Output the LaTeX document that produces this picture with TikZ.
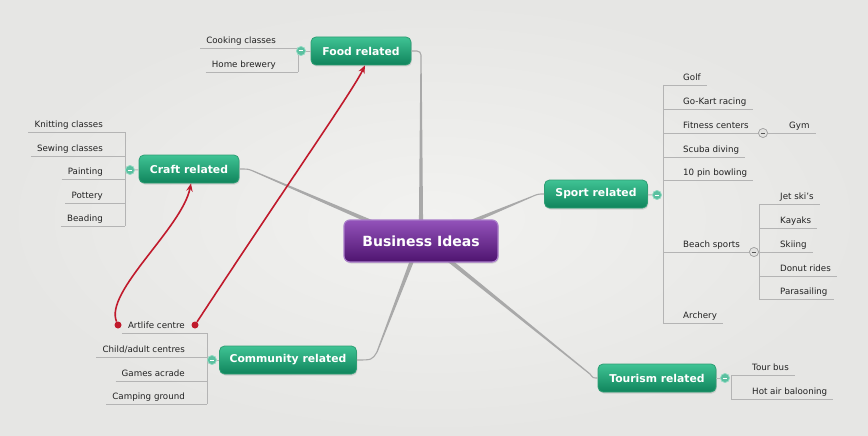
\documentclass[tikz,border=0pt]{standalone}
\usepackage{fontspec}
\setmainfont{DejaVu Sans}
\usetikzlibrary{calc,shadows,arrows.meta}
\definecolor{bgin}{HTML}{F2F2F0}
\definecolor{bgout}{HTML}{E6E6E4}
\definecolor{brgray}{HTML}{A9A9A9}
\definecolor{ulgray}{HTML}{B4B4B4}
\definecolor{leaftext}{HTML}{222222}
\definecolor{gtop}{HTML}{3FC394}
\definecolor{gbot}{HTML}{10845C}
\definecolor{gdraw}{HTML}{2E9E74}
\definecolor{ptop}{HTML}{9352BA}
\definecolor{pbot}{HTML}{4E146F}
\definecolor{pdraw}{HTML}{A97CC9}
\definecolor{rlink}{HTML}{C01A2C}
\definecolor{gcfill}{HTML}{5BC0A0}
\definecolor{gcdraw}{HTML}{9ADCC6}
\definecolor{ycfill}{HTML}{E2E2E0}
\definecolor{ycdraw}{HTML}{A0A0A0}
\definecolor{ycminus}{HTML}{555555}
\newcommand\taper[2]{%
  \fill[brgray] ($(#1)!2.1pt!90:(#2)$) -- ($(#2)!0.6pt!-90:(#1)$) -- ($(#2)!0.6pt!90:(#1)$) -- ($(#1)!2.1pt!-90:(#2)$) -- cycle;}
\begin{document}
\begin{tikzpicture}[x=1pt,y=-1pt,
  branch/.style={rounded corners=5pt, minimum width=#1, minimum height=28pt, inner sep=0pt,
    top color=gtop, bottom color=gbot, draw=gdraw, line width=0.8pt, text=white,
    font=\fontsize{10.8}{12}\selectfont\bfseries,
    drop shadow={opacity=0.25, shadow xshift=0.8pt, shadow yshift=-1.5pt}},
  central/.style={rounded corners=6pt, minimum width=154pt, minimum height=42pt, inner sep=0pt,
    top color=ptop, bottom color=pbot, draw=pdraw, line width=1.2pt, text=white,
    font=\fontsize{14}{16}\selectfont\bfseries,
    drop shadow={opacity=0.25, shadow xshift=0.8pt, shadow yshift=-1.5pt}},
  leafL/.style={anchor=south east, inner sep=0pt, text height=7pt, text depth=4pt,
    font=\fontsize{8.7}{10}\selectfont, text=leaftext,
    execute at begin node=\hspace{6pt}, execute at end node=\hspace{22pt}},
  leafR/.style={anchor=south west, inner sep=0pt, text height=7pt, text depth=4pt,
    font=\fontsize{8.7}{10}\selectfont, text=leaftext,
    execute at begin node=\hspace{#1pt}, execute at end node=\hspace{6pt}},
  leafR/.default=20,
  uline/.style={draw=ulgray, line width=0.9pt},
  thinbr/.style={draw=brgray, line width=1.1pt},
  gcirc/.style={circle, minimum size=9pt, inner sep=0pt, fill=gcfill, draw=gcdraw, line width=0.6pt,
    path picture={\draw[white, line width=1pt] ([xshift=-2.4pt]path picture bounding box.center) -- ([xshift=2.4pt]path picture bounding box.center);}},
  ycirc/.style={circle, minimum size=9pt, inner sep=0pt, fill=ycfill, draw=ycdraw, line width=0.6pt,
    path picture={\draw[ycminus, line width=0.9pt] ([xshift=-2.4pt]path picture bounding box.center) -- ([xshift=2.4pt]path picture bounding box.center);}},
  rdot/.style={circle, minimum size=7pt, inner sep=0pt, fill=rlink},
  rarrow/.style={draw=rlink, line width=1.6pt, -{Stealth[length=8pt,width=6.5pt]}}
]
\useasboundingbox (0,0) rectangle (868,436);
\shade[inner color=bgin, outer color=bgout] (0,0) rectangle (868,436);

% branch connectors (tapered)
\coordinate (cf0) at (421,226); \coordinate (cf1) at (421,57);
\coordinate (cc0) at (376,224); \coordinate (cc1) at (253,171);
\coordinate (cs0) at (466,224); \coordinate (cs1) at (531,197);
\coordinate (cm0) at (413,258); \coordinate (cm1) at (377,352);
\coordinate (ct0) at (445,257); \coordinate (ct1) at (590,374);
\taper{cf0}{cf1}
\taper{cc0}{cc1}
\taper{cs0}{cs1}
\taper{cm0}{cm1}
\taper{ct0}{ct1}

% main nodes
\node[central] (bi) at (421,241) {Business Ideas};
\node[branch=100pt] (food) at (361,51) {Food related};
\node[branch=100pt] (craft) at (189,169) {Craft related};
\node[branch=103pt] (sport) at (596,194) {Sport related};
\node[branch=137pt] (comm) at (288,360) {Community related};
\node[branch=118pt] (tour) at (657,378) {Tourism related};

\draw[thinbr, rounded corners=4pt] (food.east) -- (421,51) -- (cf1);
\draw[thinbr] (craft.east) .. controls (248,169) .. (cc1);
\draw[thinbr] (cs1) .. controls (538,194) .. (sport.west);
\draw[thinbr] (cm1) .. controls (372,360) .. (comm.east);
\draw[thinbr] (ct1) .. controls (593,378) .. (tour.west);

% Food leaves
\node[leafL] (cook) at (298,48) {Cooking classes};
\node[leafL] (brew) at (298,72) {Home brewery};
\draw[uline] (cook.south west) -- (cook.south east);
\draw[uline] (brew.south west) -- (brew.south east);
\draw[uline] (cook.south east) -- (brew.south east);
\node[gcirc] (fc) at (301,51) {};
\draw[uline] (fc) -- (food);
\node[gcirc] at (301,51) {};

% Craft leaves
\node[leafL] (knit) at (125,132) {Knitting classes};
\node[leafL] (sew) at (125,156) {Sewing classes};
\node[leafL] (paint) at (125,179) {Painting};
\node[leafL] (pot) at (125,203) {Pottery};
\node[leafL] (bead) at (125,226) {Beading};
\foreach \n in {knit,sew,paint,pot,bead} \draw[uline] (\n.south west) -- (\n.south east);
\draw[uline] (knit.south east) -- (bead.south east);
\node[gcirc] (cc) at (130,170) {};
\draw[uline] (cc) -- (craft);
\node[gcirc] at (130,170) {};

% Community leaves
\node[leafL] (art) at (207,333) {Artlife centre};
\node[leafL] (child) at (207,357) {Child/adult centres};
\node[leafL] (games) at (207,381) {Games acrade};
\node[leafL] (camp) at (207,404) {Camping ground};
\foreach \n in {art,child,games,camp} \draw[uline] (\n.south west) -- (\n.south east);
\draw[uline] (art.south east) -- (camp.south east);
\node[gcirc] (mc) at (212,360) {};
\draw[uline] (mc) -- (comm);
\node[gcirc] at (212,360) {};

% Sport leaves
\node[leafR] (golf) at (663,85) {Golf};
\node[leafR] (kart) at (663,109) {Go-Kart racing};
\node[leafR] (fit) at (663,133) {Fitness centers};
\node[leafR] (scuba) at (663,157) {Scuba diving};
\node[leafR] (bowl) at (663,180) {10 pin bowling};
\node[leafR] (beach) at (663,252) {Beach sports};
\node[leafR] (arch) at (663,323) {Archery};
\foreach \n in {golf,kart,scuba,bowl,arch} \draw[uline] (\n.south west) -- (\n.south east);
\draw[uline] (golf.south west) -- (arch.south west);
\node[gcirc] (sc) at (657,195) {};
\draw[uline] (sc) -- (sport);
\node[gcirc] at (657,195) {};

% Fitness -> Gym
\node[ycirc] (fitc) at (763,133) {};
\node[leafR=26] (gym) at (763,133) {Gym};
\draw[uline] (fit.south west) -- (fitc);
\draw[uline] (fitc) -- (gym.south east);
\node[ycirc] at (763,133) {};

% Beach sports sub-leaves
\node[ycirc] (bc) at (754,252) {};
\node[leafR=21] (jet) at (759,204) {Jet ski's};
\node[leafR=21] (kay) at (759,228) {Kayaks};
\node[leafR=21] (ski) at (759,252) {Skiing};
\node[leafR=21] (donut) at (759,276) {Donut rides};
\node[leafR=21] (para) at (759,299) {Parasailing};
\foreach \n in {jet,kay,ski,donut,para} \draw[uline] (\n.south west) -- (\n.south east);
\draw[uline] (jet.south west) -- (para.south west);
\draw[uline] (beach.south west) -- (bc);
\node[ycirc] at (754,252) {};

% Tourism leaves
\node[leafR=21] (bus) at (731,375) {Tour bus};
\node[leafR=21] (hot) at (731,399) {Hot air balooning};
\foreach \n in {bus,hot} \draw[uline] (\n.south west) -- (\n.south east);
\draw[uline] (bus.south west) -- (hot.south west);
\node[gcirc] (tc) at (725,378) {};
\draw[uline] (tc) -- (tour);
\node[gcirc] at (725,378) {};

% red relationship links
\node[rdot] (r1) at (118,325) {};
\node[rdot] (r2) at (195,325) {};
\draw[rarrow] (r1) .. controls (104,292) and (182,228) .. ([xshift=2pt]craft.south);
\draw[rarrow] (r2) .. controls (290,180) and (352,92) .. ([xshift=4pt]food.south);
\end{tikzpicture}
\end{document}
